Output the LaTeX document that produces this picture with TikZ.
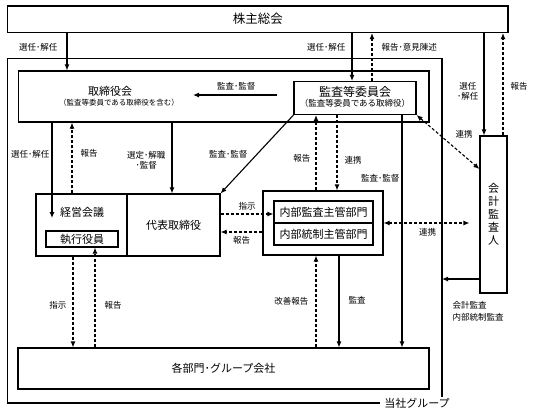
\documentclass[tikz,border=0pt]{standalone}
\usepackage{fontspec}
\setmainfont{Noto Sans CJK JP}
\usetikzlibrary{arrows.meta}

\begin{document}
\begin{tikzpicture}[x=1bp,y=-1bp,->,>={Latex[length=6bp,width=5bp]},line width=1.1bp,
  box/.style={draw,inner sep=0pt,font=\fontsize{11bp}{13bp}\selectfont},
  txt/.style={inner sep=0pt,font=\fontsize{11bp}{13bp}\selectfont},
  lbl/.style={inner sep=1bp,font=\fontsize{8.5bp}{10.5bp}\selectfont},
  dsh/.style={dash pattern=on 3bp off 2bp}]
  \useasboundingbox (0,0) rectangle (533,419);

  % boxes
  \node[box,minimum width=500.5bp,minimum height=26.5bp,font=\fontsize{12.5bp}{14bp}\selectfont] (soukai) at (257.75,19.25) {株主総会};
  \node[box,minimum width=410.5bp,minimum height=51bp] (board) at (223.75,96.5) {};
  \node[txt] (boardtxt) at (110,91) {取締役会};
  \node[txt,font=\fontsize{7.5bp}{9bp}\selectfont] (boardsub) at (119,103) {（監査等委員である取締役を含む）};
  \node[box,minimum width=122bp,minimum height=33bp] (audcom) at (355,98) {};
  \node[txt,font=\fontsize{12bp}{14bp}\selectfont] (audtxt) at (355,92) {監査等委員会};
  \node[txt,font=\fontsize{8.5bp}{10bp}\selectfont] (audsub) at (355,103.5) {（監査等委員である取締役）};
  \node[box,minimum width=91bp,minimum height=62bp] (exec) at (81.5,225) {};
  \node[txt] (exectxt) at (82,212) {経営会議};
  \node[box,minimum width=72bp,minimum height=16bp] (officers) at (82,239) {執行役員};
  \node[box,minimum width=93bp,minimum height=62bp] (rep) at (173.5,225) {代表取締役};
  \node[box,minimum width=120bp,minimum height=64bp] (internal) at (323,223) {};
  \node[box,minimum width=99bp,minimum height=22bp] (ia) at (323.5,212) {内部監査主管部門};
  \node[box,minimum width=99bp,minimum height=22bp] (ic) at (323.5,234) {内部統制主管部門};
  \node[box,minimum width=27bp,minimum height=157bp,align=center] (auditor) at (493.5,214.5) {会\\計\\監\\査\\人};
  \node[box,minimum width=411bp,minimum height=41bp] (depts) at (223.5,368.5) {各部門･グループ会社};

  % group frame
  \coordinate (grpR) at (442,58.5);
  \draw[-] (380,403) -- (7.5,403) -- (7.5,58.5) -- (grpR) -- (442,397);
  \node[txt] (grp) at (417,403) {当社グループ};

  % connector positions
  \coordinate (c1) at (67,0);
  \coordinate (c2) at (352,0);
  \coordinate (c3) at (372,0);
  \coordinate (c4) at (484,0);
  \coordinate (c5) at (503,0);
  \coordinate (c6) at (193,95);
  \coordinate (c7) at (52,218);
  \coordinate (c8) at (72,0);
  \coordinate (c9) at (172,0);
  \coordinate (c11) at (337,0);
  \coordinate (c12) at (316,0);
  \coordinate (c13) at (402,0);
  \coordinate (c14) at (0,169);
  \coordinate (c15) at (0,214);
  \coordinate (c16) at (0,232);
  \coordinate (c18) at (0,279);
  \coordinate (c19) at (339,0);
  \coordinate (c21) at (73,0);
  \coordinate (c22) at (95,0);

  % shareholders
  \draw (soukai.south -| c1) -- node[lbl,pos=.38,left=8bp] {選任･解任} (board.north -| c1);
  \draw (soukai.south -| c2) -- node[lbl,pos=.3,left=5bp] {選任･解任} (audcom.north -| c2);
  \draw[dsh] (audcom.north -| c3) -- node[lbl,pos=.7,right=8bp] {報告･意見陳述} (soukai.south -| c3);
  \draw (soukai.south -| c4) -- node[lbl,pos=.57,left=4bp,align=center] {選任\\･解任} (auditor.north -| c4);
  \draw[dsh] (auditor.north -| c5) -- node[lbl,pos=.48,right=6bp] {報告} (soukai.south -| c5);

  % board
  \draw[shorten <=16bp] (audcom.west |- c6) -- node[lbl,pos=.57,above=3bp] {監査･監督} (c6);
  \draw (board.south -| c7) -- node[lbl,pos=.33,left=1bp] {選任･解任} (c7);
  \draw[dsh] (exec.north -| c8) -- node[lbl,pos=.56,right=7bp] {報告} (board.south -| c8);
  \draw (board.south -| c9) -- node[lbl,pos=.53,left=5bp,align=center] {選定･解職\\･監督} (rep.north -| c9);
  \draw (audcom.south west) -- node[lbl,left=8bp] {監査･監督} (rep.north east);

  % audit committee
  \draw[dsh] (audcom.south -| c11) -- node[lbl,pos=.6,right=6bp] {連携} (internal.north -| c11);
  \draw[dsh] (internal.north -| c12) -- node[lbl,pos=.43,left=4bp] {報告} (audcom.south -| c12);
  \draw (audcom.south -| c13) -- node[lbl,pos=.27,left=1bp] {監査･監督} (depts.north -| c13);
  \draw[<->,dsh] (audcom.south east) -- node[lbl,pos=.55,anchor=south west,xshift=3bp,yshift=5bp] {連携} (auditor.west |- c14);

  % representative and internal audit
  \draw[dsh] (rep.east |- c15) -- node[lbl,above=2bp] {指示} (ia.west |- c15);
  \draw[dsh] (internal.west |- c16) -- node[lbl,below=3bp] {報告} (rep.east |- c16);
  \draw[<->,dsh,shorten >=10bp] (internal.east) -- node[lbl,pos=.46,below=4bp] {連携} (auditor.west |- internal.east);

  % accounting auditor
  \draw (auditor.west |- c18) -- (grpR |- c18);
  \node[lbl,anchor=north west,align=left,font=\fontsize{8.5bp}{12bp}\selectfont] (note) at (451,300) {会計監査\\内部統制監査};

  % departments
  \draw (internal.south -| c19) -- node[lbl,pos=.49,right=8bp] {監査} (depts.north -| c19);
  \draw[dsh] (depts.north -| c12) -- node[lbl,pos=.5,left=6bp] {改善報告} (internal.south -| c12);
  \draw[dsh] (exec.south -| c21) -- node[lbl,pos=.54,left=5bp] {指示} (depts.north -| c21);
  \draw[dsh] (depts.north -| c22) -- node[lbl,pos=.42,right=8bp] {報告} (officers.south -| c22);
\end{tikzpicture}
\end{document}
